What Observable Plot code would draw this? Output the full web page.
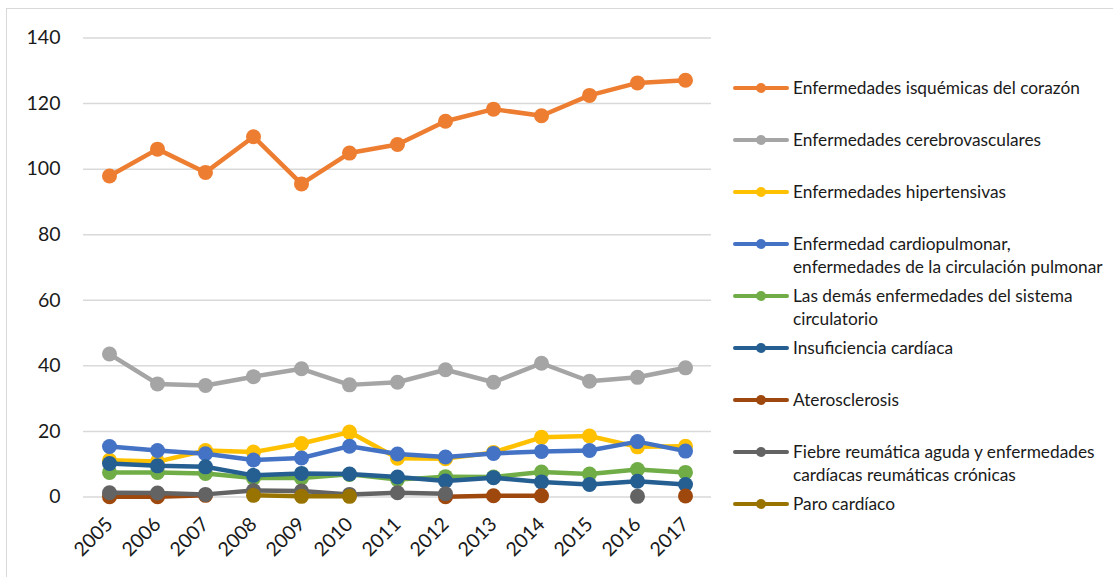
<!DOCTYPE html>
<html>
<head>
<meta charset="utf-8">
<script src="https://cdn.jsdelivr.net/npm/d3@7"></script>
<script src="https://cdn.jsdelivr.net/npm/@observablehq/plot@0.6"></script>
<style>
  html, body { margin: 0; padding: 0; background: #fff; }
  #wrap { position: relative; width: 1113px; height: 577px; overflow: hidden; font-family: Lato, "Noto Sans", sans-serif; }
  #frame { position: absolute; left: 6px; top: 8px; width: 1120px; height: 580px; border: 1.5px solid #d9d9d9; box-sizing: border-box; }
  #plot { position: absolute; left: 0; top: 0; }
  #legend { position: absolute; left: 733px; top: 76px; }
  .item { position: absolute; left: 0; display: flex; align-items: flex-start; white-space: nowrap; }
  .item svg { flex: none; margin-top: 5px; }
  .item span { font-size: 17.3px; line-height: 23px; color: #1a1a1a; margin-left: 4px; }
</style>
</head>
<body>
<div id="wrap">
  <div id="frame"></div>
  <div id="plot"></div>
  <div id="legend"></div>
</div>
<script>
// Años del periodo
const years = [2005, 2006, 2007, 2008, 2009, 2010, 2011, 2012, 2013, 2014, 2015, 2016, 2017];

// Tasas por serie (null = sin dato)
const isquemicas      = [97.9, 106.1, 99.0, 109.9, 95.5, 104.9, 107.5, 114.6, 118.3, 116.3, 122.5, 126.3, 127.1];
const cerebrovasc     = [43.6, 34.5, 34.0, 36.7, 39.1, 34.2, 35.0, 38.8, 35.0, 40.8, 35.3, 36.5, 39.4];
const hipertensivas   = [11.2, 10.8, 14.2, 13.7, 16.3, 19.8, 11.8, 11.7, 13.6, 18.2, 18.6, 15.3, 15.5];
const cardiopulmonar  = [15.4, 14.2, 13.2, 11.3, 11.9, 15.5, 13.1, 12.2, 13.3, 13.9, 14.2, 16.9, 14.0];
const demas           = [7.5, 7.5, 7.2, 5.8, 5.8, 6.9, 5.3, 6.2, 6.1, 7.6, 7.0, 8.4, 7.5];
const insuficiencia   = [10.2, 9.5, 9.2, 6.6, 7.2, 7.0, 6.1, 4.9, 5.9, 4.6, 3.8, 4.8, 3.8];
const aterosclerosis  = [0.1, 0.1, 0.5, null, null, null, null, 0.1, 0.4, 0.4, null, null, 0.3];
const fiebre          = [1.3, 1.2, 0.8, 2.0, 1.8, 0.8, 1.3, 1.0, null, null, null, 0.2, null];
const paro            = [null, null, null, 0.5, 0.2, 0.2, null, null, null, null, null, null, null];

// Nombres de las series (líneas del texto de leyenda)
const seriesNames = [
  ["Enfermedades isquémicas del corazón"],
  ["Enfermedades cerebrovasculares"],
  ["Enfermedades hipertensivas"],
  ["Enfermedad cardiopulmonar,", "enfermedades de la circulación pulmonar"],
  ["Las demás enfermedades del sistema", "circulatorio"],
  ["Insuficiencia cardíaca"],
  ["Aterosclerosis"],
  ["Fiebre reumática aguda y enfermedades", "cardíacas reumáticas crónicas"],
  ["Paro cardíaco"]
];
const seriesValues = [isquemicas, cerebrovasc, hipertensivas, cardiopulmonar, demas, insuficiencia, aterosclerosis, fiebre, paro];
const seriesColors = ["#ED7D31", "#A5A5A5", "#FFC000", "#4472C4", "#70AD47", "#255E91", "#9E480E", "#636363", "#997300"];

const series = seriesNames.map((lines, i) => ({
  name: lines.join(" "),
  lines,
  color: seriesColors[i],
  rows: years.map((year, j) => ({year, value: seriesValues[i][j]}))
}));

// Cada serie: línea y marcadores, en orden de dibujo
const seriesMarks = series.flatMap(s => [
  Plot.lineY(s.rows, {x: "year", y: "value", stroke: s.color, strokeWidth: 4.5, strokeLinejoin: "round", strokeLinecap: "round"}),
  Plot.dot(s.rows.filter(d => d.value != null), {x: "year", y: "value", r: 7.5, fill: s.color, stroke: "none"})
]);

const chart = Plot.plot({
  width: 720,
  height: 577,
  marginLeft: 83,
  marginRight: 9,
  marginTop: 37.5,
  marginBottom: 80.5,
  style: {fontFamily: "Lato, 'Noto Sans', sans-serif", color: "#1a1a1a", background: "transparent"},
  x: {type: "point", domain: years, padding: 0.5},
  y: {domain: [0, 140]},
  marks: [
    Plot.gridY([0, 20, 40, 60, 80, 100, 120, 140], {stroke: "#d9d9d9", strokeOpacity: 1, strokeWidth: 1.5}),
    Plot.axisY([0, 20, 40, 60, 80, 100, 120, 140], {tickSize: 0, tickPadding: 23, fontSize: 19.5, label: null}),
    Plot.axisX(years, {tickRotate: -45, tickSize: 0, tickPadding: 24, fontSize: 19.5, label: null, tickFormat: d => String(d)}),
    ...seriesMarks
  ]
});
document.getElementById("plot").appendChild(chart);

// Leyenda a la derecha
const legend = d3.select("#legend");
series.forEach((s, i) => {
  const item = legend.append("div").attr("class", "item").style("top", (i * 52) + "px");
  const sw = item.append("svg").attr("width", 56).attr("height", 14);
  sw.append("line").attr("x1", 2).attr("x2", 54).attr("y1", 7).attr("y2", 7)
    .attr("stroke", s.color).attr("stroke-width", 4).attr("stroke-linecap", "round");
  sw.append("circle").attr("cx", 28).attr("cy", 7).attr("r", 5).attr("fill", s.color);
  item.append("span").html(s.lines.join("<br>"));
});
</script>
</body>
</html>
